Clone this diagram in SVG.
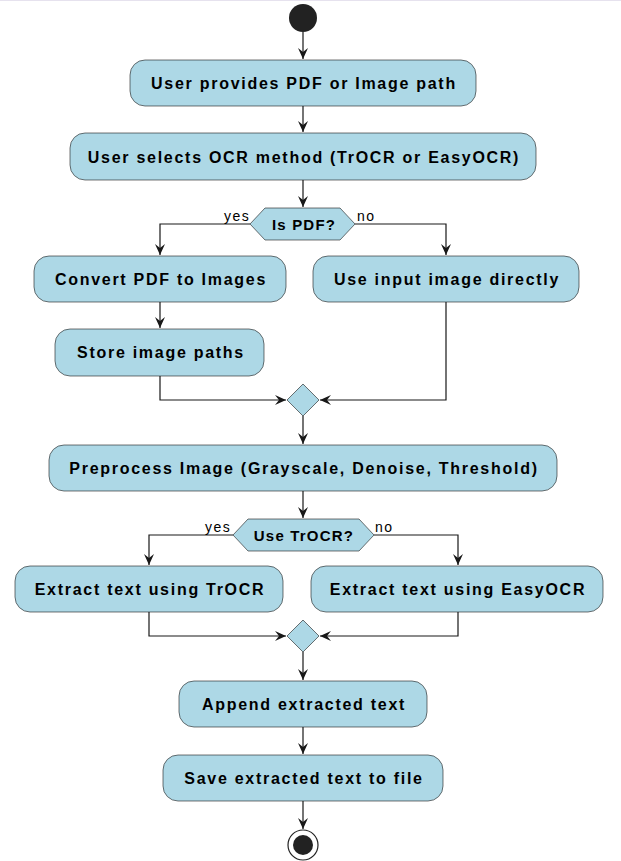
<svg xmlns="http://www.w3.org/2000/svg" width="621" height="861" viewBox="0 0 621 861">
<defs>
<marker id="arr" markerUnits="userSpaceOnUse" markerWidth="12" markerHeight="12" viewBox="0 0 12 10" refX="11" refY="5" orient="auto">
<path d="M0,0 L11,5 L0,10 L4,5 Z" fill="#181818"/>
</marker>
<style>
.box{fill:#ADD8E6;stroke:#181818;stroke-width:0.6}
.t{font-family:"Liberation Sans",Arial,sans-serif;font-size:16px;font-weight:bold;letter-spacing:1.72px;fill:#000;text-anchor:middle;dominant-baseline:central}
.dt{font-size:15px;letter-spacing:1.2px}
.lbl{font-family:"Liberation Sans",Arial,sans-serif;font-size:14px;letter-spacing:1.5px;fill:#000}
.c{fill:none;stroke:#181818;stroke-width:1.2}
</style>
</defs>
<rect x="0" y="0" width="621" height="861" fill="#fff"/>
<line x1="0" y1="0.5" x2="621" y2="0.5" stroke="#e6e2ee" stroke-width="1"/>
<g id="connectors">
<path class="c" d="M303,32 V59" marker-end="url(#arr)"/>
<path class="c" d="M303,106 V132" marker-end="url(#arr)"/>
<path class="c" d="M303,180 V207" marker-end="url(#arr)"/>
<path class="c" d="M250,224 H160 V255" marker-end="url(#arr)"/>
<path class="c" d="M355,224 H446 V255" marker-end="url(#arr)"/>
<path class="c" d="M160,302 V328" marker-end="url(#arr)"/>
<path class="c" d="M160,376 V400 H286" marker-end="url(#arr)"/>
<path class="c" d="M446,302 V400 H320" marker-end="url(#arr)"/>
<path class="c" d="M303,416 V444" marker-end="url(#arr)"/>
<path class="c" d="M303,491 V518" marker-end="url(#arr)"/>
<path class="c" d="M233,535 H149 V565" marker-end="url(#arr)"/>
<path class="c" d="M374,535 H458 V565" marker-end="url(#arr)"/>
<path class="c" d="M149,612 V636 H286" marker-end="url(#arr)"/>
<path class="c" d="M458,612 V636 H320" marker-end="url(#arr)"/>
<path class="c" d="M303,652 V680" marker-end="url(#arr)"/>
<path class="c" d="M303,727 V754" marker-end="url(#arr)"/>
<path class="c" d="M303,801 V829" marker-end="url(#arr)"/>
<text class="lbl" x="224" y="220.5">yes</text>
<text class="lbl" x="357" y="220.5">no</text>
<text class="lbl" x="205" y="532">yes</text>
<text class="lbl" x="375" y="532">no</text>
</g>
<g id="start"><circle cx="303" cy="18" r="14" fill="#222"/></g>
<g id="n1"><rect class="box" x="130" y="60" width="346" height="46" rx="15"/><text class="t" x="304" y="83">User provides PDF or Image path</text></g>
<g id="n2"><rect class="box" x="70" y="133" width="466" height="47" rx="15"/><text class="t" x="304" y="157">User selects OCR method (TrOCR or EasyOCR)</text></g>
<g id="d1"><polygon class="box" points="250,224 265,208 340,208 355,224 340,240 265,240"/><text class="t dt" x="304" y="224.5">Is PDF?</text></g>
<g id="n3"><rect class="box" x="34" y="256" width="252" height="46" rx="15"/><text class="t" x="161" y="279">Convert PDF to Images</text></g>
<g id="n4"><rect class="box" x="313" y="256" width="266" height="46" rx="15"/><text class="t" x="447" y="279">Use input image directly</text></g>
<g id="n5"><rect class="box" x="55" y="329" width="209" height="47" rx="15"/><text class="t" x="161" y="352">Store image paths</text></g>
<g id="m1"><polygon class="box" points="303,384 319,400 303,416 287,400"/></g>
<g id="n6"><rect class="box" x="49" y="445" width="508" height="46" rx="15"/><text class="t" x="304" y="468">Preprocess Image (Grayscale, Denoise, Threshold)</text></g>
<g id="d2"><polygon class="box" points="233,535 248,519 359,519 374,535 359,551 248,551"/><text class="t dt" x="304" y="535.5">Use TrOCR?</text></g>
<g id="n7"><rect class="box" x="15" y="566" width="268" height="46" rx="15"/><text class="t" x="150" y="589">Extract text using TrOCR</text></g>
<g id="n8"><rect class="box" x="311" y="566" width="292" height="46" rx="15"/><text class="t" x="458" y="589">Extract text using EasyOCR</text></g>
<g id="m2"><polygon class="box" points="303,620 319,636 303,652 287,636"/></g>
<g id="n9"><rect class="box" x="179" y="681" width="248" height="46" rx="15"/><text class="t" x="304" y="704">Append extracted text</text></g>
<g id="n10"><rect class="box" x="163" y="755" width="280" height="46" rx="15"/><text class="t" x="304" y="778">Save extracted text to file</text></g>
<g id="end"><circle cx="303" cy="845" r="15" fill="#fff" stroke="#222" stroke-width="1.2"/><circle cx="303" cy="845" r="10" fill="#222"/></g>
</svg>
